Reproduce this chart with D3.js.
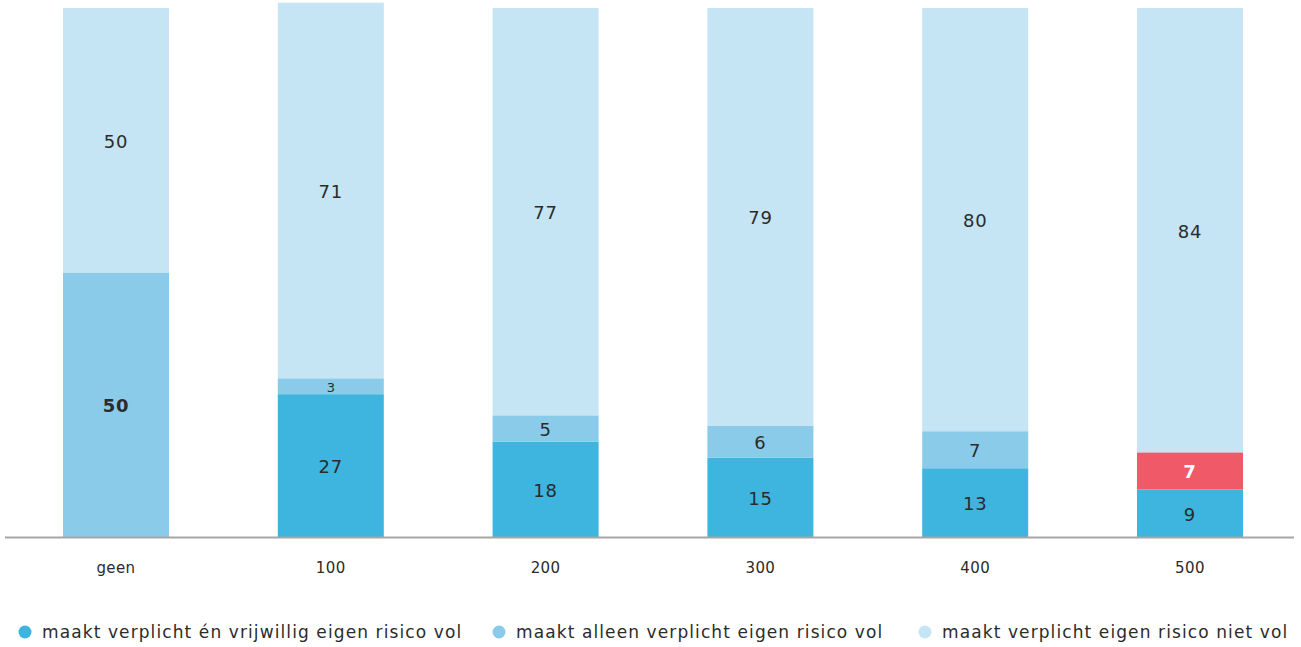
<!DOCTYPE html>
<html>
<head>
<meta charset="utf-8">
<script src="https://cdn.jsdelivr.net/npm/d3@7"></script>
<style>
  html, body { margin: 0; padding: 0; background: #ffffff; }
  svg { display: block; }
  text { font-family: "DejaVu Sans", "Noto Sans", sans-serif; fill: #2b2b2b; }
</style>
</head>
<body>
<svg id="chart" width="1301" height="647"></svg>
<script>
// Eigen risico categories (euro)
const categories = ["geen", "100", "200", "300", "400", "500"];

// Share (%) per category for each group
const verplichtEnVrijwillig = [0, 27, 18, 15, 13, 9];
const alleenVerplicht = [50, 3, 5, 6, 7, 7];
const verplichtNietVol = [50, 71, 77, 79, 80, 84];

const seriesNames = [
  "maakt verplicht én vrijwillig eigen risico vol",
  "maakt alleen verplicht eigen risico vol",
  "maakt verplicht eigen risico niet vol"
];
const seriesColors = ["#3db5df", "#89cbe8", "#c5e4f4"];
const highlightColor = "#f05a68";

const svg = d3.select("#chart");

const baseY = 537, topY = 8;

const x = d3.scaleBand()
  .domain(categories)
  .range([8, 1298])
  .paddingInner(0.5065)
  .paddingOuter(0.256);

const y = d3.scaleLinear().domain([0, 100]).range([baseY, topY]);

const rows = categories.map((c, i) => ({
  cat: c,
  s0: verplichtEnVrijwillig[i],
  s1: alleenVerplicht[i],
  s2: verplichtNietVol[i]
}));

const layers = d3.stack().keys(["s0", "s1", "s2"])(rows);

const isHighlight = (li, d) => li === 1 && d.data.cat === "500";

const g = svg.append("g");

layers.forEach((layer, li) => {
  const grp = g.append("g");
  grp.selectAll("rect")
    .data(layer)
    .join("rect")
    .attr("x", d => x(d.data.cat))
    .attr("width", x.bandwidth())
    .attr("y", d => y(d[1]))
    .attr("height", d => y(d[0]) - y(d[1]))
    .attr("fill", d => isHighlight(li, d) ? highlightColor : seriesColors[li]);

  grp.selectAll("text")
    .data(layer.filter(d => d[1] - d[0] > 0))
    .join("text")
    .attr("x", d => x(d.data.cat) + x.bandwidth() / 2)
    .attr("y", d => (y(d[0]) + y(d[1])) / 2 + 1)
    .attr("text-anchor", "middle")
    .attr("dominant-baseline", "central")
    .style("font-size", d => (d[1] - d[0]) < 4 ? "13px" : "18px")
    .style("letter-spacing", d => (d[1] - d[0]) < 4 ? "0px" : "0.8px")
    .style("font-weight", d => (li === 1 && (d.data.cat === "geen" || d.data.cat === "500")) ? 700 : 400)
    .style("fill", d => isHighlight(li, d) ? "#ffffff" : "#2b2b2b")
    .text(d => d[1] - d[0]);
});

// Category axis under the bars
const xAxis = d3.axisBottom(x).tickSize(0).tickPadding(25);
const axisG = svg.append("g")
  .attr("transform", `translate(0,${baseY})`)
  .call(xAxis);
axisG.select(".domain").remove();
axisG.selectAll("text")
  .style("font-size", "15px")
  .style("letter-spacing", "0.4px")
  .style("font-family", "'DejaVu Sans', sans-serif")
  .attr("fill", "#2b2b2b");
svg.append("line")
  .attr("x1", 5).attr("x2", 1294)
  .attr("y1", baseY + 0.5).attr("y2", baseY + 0.5)
  .attr("stroke", "#a6a6a6")
  .attr("stroke-width", 2);

// Legend
const legendX = [25, 499, 925];
const legend = svg.append("g").attr("transform", "translate(0,632)");
seriesNames.forEach((name, i) => {
  legend.append("circle")
    .attr("cx", legendX[i]).attr("cy", 0).attr("r", 6.5)
    .attr("fill", seriesColors[i]);
  legend.append("text")
    .attr("x", legendX[i] + 17).attr("y", 0)
    .attr("dominant-baseline", "central")
    .style("font-size", "17px")
    .style("letter-spacing", "1.1px")
    .text(name);
});
</script>
</body>
</html>
